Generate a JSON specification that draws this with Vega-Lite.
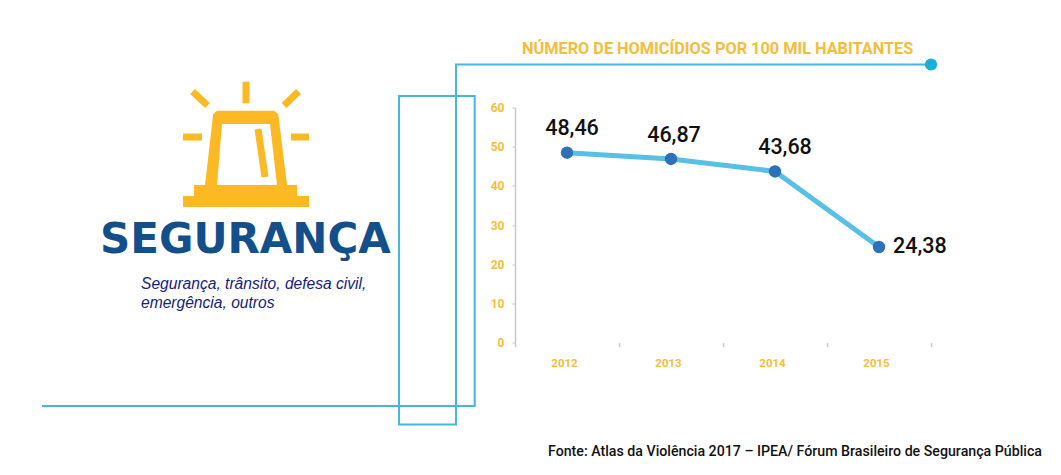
{"$schema":"https://vega.github.io/schema/vega-lite/v6.json","width":416,"height":235,"autosize":"none","padding":{"left":515,"top":107.5,"right":130,"bottom":132.5},"background":"white","config":{"view":{"stroke":null}},
"datasets":{
"homicidios":[{"ano":"2012","taxa":48.46,"rotulo":"48,46"},{"ano":"2013","taxa":46.87,"rotulo":"46,87"},{"ano":"2014","taxa":43.68,"rotulo":"43,68"},{"ano":"2015","taxa":24.38,"rotulo":"24,38"}],
"moldura":[{"o":1,"x":42,"y":406},{"o":2,"x":474.7,"y":406},{"o":3,"x":474.7,"y":96},{"o":4,"x":399,"y":96},{"o":5,"x":399,"y":424.5},{"o":6,"x":456,"y":424.5},{"o":7,"x":456,"y":64.5},{"o":8,"x":931,"y":64.5}],
"raios":[{"x":246,"y":81.7,"x2":246,"y2":103.3},{"x":192.5,"y":91.5,"x2":207.5,"y2":105.5},{"x":298.5,"y":91.5,"x2":284,"y2":105.5},{"x":183,"y":137,"x2":202,"y2":137},{"x":291,"y":137,"x2":309,"y2":137},{"x":258,"y":129,"x2":265,"y2":177}],
"base":[{"x":194,"x2":297,"y":185,"y2":196},{"x":183,"x2":309,"y":196,"y2":207}],
"corpo":[{"x":205,"y":185,"y2":185},{"x":213.2,"y":114,"y2":185},{"x":217,"y":110.7,"y2":185},{"x":274,"y":110.7,"y2":185},{"x":278.2,"y":114,"y2":185},{"x":287,"y":185,"y2":185}],
"vidro":[{"x":217,"y":185,"y2":185},{"x":222,"y":124,"y2":185},{"x":270,"y":124,"y2":185},{"x":277,"y":185,"y2":185}],
"textos":[{"t":"SEGURANÇA","x":100,"y":253}]
},
"resolve":{"scale":{"x":"independent","y":"independent"},"axis":{"x":"independent","y":"independent"}},
"layer":[
{"encoding":{
"x":{"field":"x","type":"quantitative","axis":null,"scale":{"domain":[0,1061],"range":[-515,546],"nice":false,"zero":false}},
"y":{"field":"y","type":"quantitative","axis":null,"scale":{"domain":[0,475],"range":[-107.5,367.5],"nice":false,"zero":false}}},
"layer":[
{"data":{"name":"moldura"},"mark":{"type":"line","color":"#45b6dc","strokeWidth":2},"encoding":{"order":{"field":"o","type":"quantitative"}}},
{"data":{"values":[{"x":931,"y":64.5}]},"mark":{"type":"point","filled":true,"color":"#17b0dd","opacity":1,"size":150}},
{"data":{"name":"corpo"},"mark":{"type":"area","color":"#fdb924","opacity":1},"encoding":{"y2":{"field":"y2"}}},
{"data":{"name":"vidro"},"mark":{"type":"area","color":"#ffffff","opacity":1},"encoding":{"y2":{"field":"y2"}}},
{"data":{"name":"raios"},"mark":{"type":"rule","color":"#fdb924","strokeWidth":7},"encoding":{"x2":{"field":"x2"},"y2":{"field":"y2"}}},
{"data":{"name":"base"},"mark":{"type":"rect","color":"#fdb924","opacity":1},"encoding":{"x2":{"field":"x2"},"y2":{"field":"y2"}}},
{"data":{"name":"textos"},"mark":{"type":"text","align":"left","baseline":"alphabetic","font":"DejaVu Sans","fontWeight":"bold","fontSize":42,"color":"#134f8a"},"encoding":{"text":{"field":"t"}}},
{"data":{"values":[{"t":"Segurança, trânsito, defesa civil,","x":141,"y":289},{"t":"emergência, outros","x":141,"y":308}]},"mark":{"type":"text","align":"left","baseline":"alphabetic","font":"Liberation Sans","fontStyle":"italic","fontSize":15.6,"color":"#14217f"},"encoding":{"text":{"field":"t"}}},
{"data":{"values":[{"t":"NÚMERO DE HOMICÍDIOS POR 100 MIL HABITANTES","x":522,"y":54}]},"mark":{"type":"text","align":"left","baseline":"alphabetic","font":"Roboto","fontWeight":"bold","fontSize":16.3,"color":"#f6bd3a"},"encoding":{"text":{"field":"t"}}},
{"data":{"values":[{"t":"Fonte: Atlas da Violência 2017 – IPEA/ Fórum Brasileiro de Segurança Pública","x":548,"y":456}]},"mark":{"type":"text","align":"left","baseline":"alphabetic","font":"Roboto","fontWeight":500,"fontSize":14.2,"color":"#111111"},"encoding":{"text":{"field":"t"}}}
]},
{"data":{"name":"homicidios"},"encoding":{
"x":{"field":"ano","type":"nominal","scale":{"domain":["2012","2013","2014","2015"],"paddingInner":0,"paddingOuter":0},"axis":{"title":null,"labelAngle":0,"domain":false,"tickBand":"extent","tickColor":"#c5c8d0","tickSize":4,"tickWidth":1.5,"labelColor":"#f6bd3a","labelFont":"Roboto","labelFontWeight":"bold","labelFontSize":11.5,"labelPadding":11,"labelOffset":-3}},
"y":{"field":"taxa","type":"quantitative","scale":{"domain":[0,60],"nice":false},"axis":{"title":null,"values":[0,10,20,30,40,50,60],"grid":false,"domainColor":"#c5c8d0","domainWidth":1.5,"tickColor":"#c5c8d0","tickSize":3,"labelColor":"#f6bd3a","labelFont":"Roboto","labelFontWeight":"bold","labelFontSize":12,"labelPadding":8}}},
"layer":[
{"mark":{"type":"line","color":"#58bfe6","strokeWidth":5}},
{"mark":{"type":"point","filled":true,"color":"#2b72bb","opacity":1,"size":154}},
{"transform":[{"filter":"datum.ano=='2012'"}],"mark":{"type":"text","font":"Roboto","fontWeight":500,"fontSize":21.5,"color":"#111111","baseline":"alphabetic","dx":5,"dy":-18},"encoding":{"text":{"field":"rotulo"}}},
{"transform":[{"filter":"datum.ano=='2013'"}],"mark":{"type":"text","font":"Roboto","fontWeight":500,"fontSize":21.5,"color":"#111111","baseline":"alphabetic","dx":3,"dy":-17},"encoding":{"text":{"field":"rotulo"}}},
{"transform":[{"filter":"datum.ano=='2014'"}],"mark":{"type":"text","font":"Roboto","fontWeight":500,"fontSize":21.5,"color":"#111111","baseline":"alphabetic","dx":10,"dy":-17},"encoding":{"text":{"field":"rotulo"}}},
{"transform":[{"filter":"datum.ano=='2015'"}],"mark":{"type":"text","font":"Roboto","fontWeight":500,"fontSize":21.5,"color":"#111111","baseline":"alphabetic","align":"left","dx":14,"dy":6},"encoding":{"text":{"field":"rotulo"}}}
]}
]}
